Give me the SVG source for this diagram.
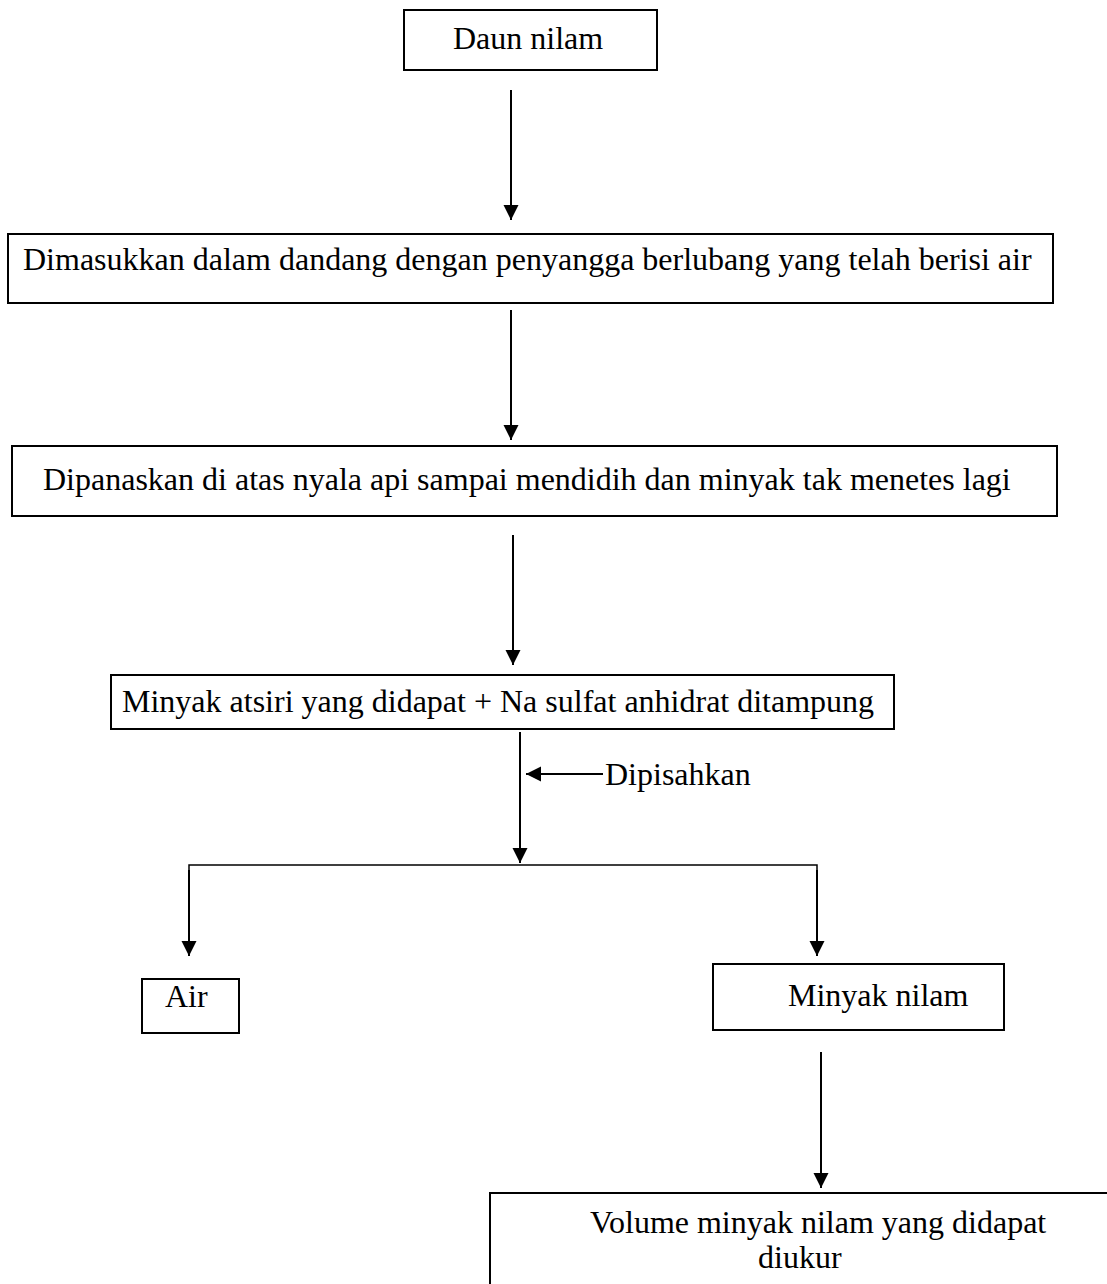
<svg xmlns="http://www.w3.org/2000/svg" width="1107" height="1284" viewBox="0 0 1107 1284">
<defs>
<style>
.box{fill:#fff;stroke:#000;stroke-width:2}
.t{font-family:"Liberation Serif","Times New Roman",serif;font-size:32px;fill:#000}
.c{fill:none;stroke:#000;stroke-width:2}
</style>
<marker id="ah" markerUnits="userSpaceOnUse" markerWidth="16" markerHeight="16" refX="15" refY="7.5" orient="auto" viewBox="0 0 16 16">
<path d="M0,0 L15,7.5 L0,15 z" fill="#000"/>
</marker>
</defs>
<rect width="1107" height="1284" fill="#fff"/>
<g id="connectors">
<line class="c" x1="511" y1="90" x2="511" y2="220" marker-end="url(#ah)"/>
<line class="c" x1="511" y1="310" x2="511" y2="440" marker-end="url(#ah)"/>
<line class="c" x1="513" y1="535" x2="513" y2="665" marker-end="url(#ah)"/>
<line class="c" x1="520" y1="732" x2="520" y2="863" marker-end="url(#ah)"/>
<line class="c" x1="603" y1="774" x2="526" y2="774" marker-end="url(#ah)"/>
<polyline class="c" points="189,956 189,865 817,865 817,956" style="stroke-width:1.5"/>
<line class="c" x1="189" y1="870" x2="189" y2="956" marker-end="url(#ah)"/>
<line class="c" x1="817" y1="870" x2="817" y2="956" marker-end="url(#ah)"/>
<line class="c" x1="821" y1="1052" x2="821" y2="1188" marker-end="url(#ah)"/>
</g>
<g id="n1"><rect class="box" x="404" y="10" width="253" height="60"/><text class="t" x="453" y="49">Daun nilam</text></g>
<g id="n2"><rect class="box" x="8" y="234" width="1045" height="69"/><text class="t" x="23" y="270">Dimasukkan dalam dandang dengan penyangga berlubang yang telah berisi air</text></g>
<g id="n3"><rect class="box" x="12" y="446" width="1045" height="70"/><text class="t" x="43" y="490">Dipanaskan di atas nyala api sampai mendidih dan minyak tak menetes lagi</text></g>
<g id="n4"><rect class="box" x="111" y="675" width="783" height="54"/><text class="t" x="122" y="712">Minyak atsiri yang didapat + Na sulfat anhidrat ditampung</text></g>
<g id="lbl"><text class="t" x="605" y="785">Dipisahkan</text></g>
<g id="n5"><rect class="box" x="142" y="979" width="97" height="54"/><text class="t" x="165" y="1007">Air</text></g>
<g id="n6"><rect class="box" x="713" y="964" width="291" height="66"/><text class="t" x="788" y="1006">Minyak nilam</text></g>
<g id="n7"><rect class="box" x="490" y="1193" width="640" height="110"/><text class="t" x="590" y="1233">Volume minyak nilam yang didapat</text><text class="t" x="758" y="1268">diukur</text></g>
</svg>
